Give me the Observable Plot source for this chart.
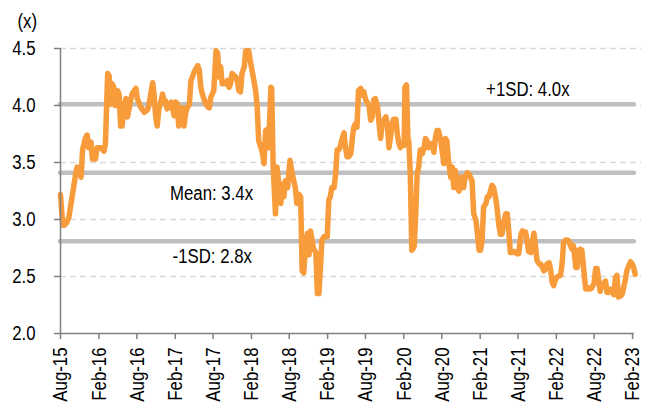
<!DOCTYPE html>
<html><head><meta charset="utf-8">
<script src="https://cdn.jsdelivr.net/npm/d3@7"></script>
<script src="https://cdn.jsdelivr.net/npm/@observablehq/plot@0.6"></script>
<style>body{margin:0;background:#fff;}</style>
</head><body><div id="chart"></div>
<script>
// decimal years (weekly-ish readings)
const years = [
2015.58,2015.61,2015.63,2015.66,2015.69,2015.74,2015.78,2015.80,2015.83,2015.85,2015.87,2015.91,2015.93,2015.95,2015.98,
2016.00,2016.04,2016.06,2016.11,2016.15,2016.17,2016.20,2016.22,2016.24,2016.26,2016.28,2016.30,2016.33,2016.35,2016.37,
2016.39,2016.41,2016.44,2016.46,2016.50,2016.52,2016.57,2016.59,2016.63,2016.68,2016.72,2016.74,2016.79,2016.81,2016.83,
2016.85,2016.87,2016.89,2016.92,2016.94,2016.96,2016.98,2017.03,2017.07,2017.09,2017.11,2017.13,2017.16,2017.18,2017.20,
2017.22,2017.24,2017.27,2017.29,2017.31,2017.33,2017.38,2017.40,2017.42,2017.44,2017.46,2017.48,2017.51,2017.53,2017.55,
2017.57,2017.59,2017.62,2017.64,2017.66,2017.68,2017.70,2017.75,2017.77,2017.79,2017.81,2017.83,2017.88,2017.90,2017.92,
2017.94,2017.96,2017.99,2018.01,2018.05,2018.07,2018.10,2018.14,2018.16,2018.18,2018.21,2018.23,2018.25,2018.27,2018.29,
2018.31,2018.34,2018.35,2018.37,2018.40,2018.42,2018.44,2018.47,2018.49,2018.51,2018.53,2018.56,2018.59,2018.62,2018.64,
2018.66,2018.68,2018.71,2018.73,2018.75,2018.77,2018.80,2018.82,2018.84,2018.86,2018.88,2018.90,2018.93,2018.95,2018.97,
2018.99,2019.01,2019.04,2019.08,2019.10,2019.12,2019.14,2019.17,2019.19,2019.21,2019.23,2019.25,2019.28,2019.30,2019.32,
2019.34,2019.36,2019.39,2019.41,2019.43,2019.45,2019.47,2019.49,2019.52,2019.54,2019.56,2019.58,2019.60,2019.63,2019.65,
2019.67,2019.69,2019.71,2019.74,2019.76,2019.78,2019.80,2019.82,2019.85,2019.87,2019.89,2019.91,2019.93,2019.95,2019.98,
2020.00,2020.02,2020.04,2020.06,2020.09,2020.10,2020.12,2020.14,2020.15,2020.17,2020.19,2020.22,2020.24,2020.26,2020.28,
2020.30,2020.33,2020.35,2020.37,2020.39,2020.41,2020.44,2020.46,2020.48,2020.50,2020.52,2020.54,2020.57,2020.59,2020.61,
2020.63,2020.65,2020.67,2020.70,2020.72,2020.74,2020.76,2020.78,2020.81,2020.83,2020.85,2020.87,2020.89,2020.92,2020.94,
2020.96,2020.98,2021.00,2021.03,2021.05,2021.07,2021.09,2021.11,2021.13,2021.16,2021.18,2021.20,2021.22,2021.24,2021.26,
2021.29,2021.31,2021.33,2021.35,2021.37,2021.40,2021.42,2021.44,2021.46,2021.48,2021.50,2021.53,2021.55,2021.57,2021.59,
2021.62,2021.64,2021.66,2021.68,2021.70,2021.72,2021.75,2021.77,2021.79,2021.81,2021.83,2021.86,2021.88,2021.90,2021.92,
2021.94,2021.96,2021.99,2022.01,2022.03,2022.05,2022.07,2022.10,2022.14,2022.16,2022.18,2022.21,2022.23,2022.25,2022.27,
2022.29,2022.31,2022.34,2022.36,2022.38,2022.40,2022.42,2022.45,2022.47,2022.49,2022.51,2022.53,2022.55,2022.58,2022.60,
2022.62,2022.64,2022.66,2022.68,2022.71,2022.73,2022.75,2022.77,2022.80,2022.82,2022.84,2022.86,2022.88,2022.90,2022.93,
2022.95,2022.97,2022.99,2023.01,2023.04,2023.06,2023.08,2023.10,2023.12
];
const values = [
3.22,2.95,2.95,2.97,3.02,3.23,3.40,3.46,3.44,3.37,3.61,3.72,3.74,3.63,3.68,
3.53,3.53,3.63,3.63,3.60,3.66,4.28,4.26,4.01,4.19,4.16,4.00,4.13,4.10,3.82,
3.82,3.98,4.06,3.90,4.04,4.10,4.15,4.06,3.99,3.94,3.96,4.00,4.20,4.09,3.90,
3.82,3.96,4.01,4.10,4.03,4.04,3.97,4.03,3.91,4.03,4.02,3.82,3.90,3.98,3.82,
3.93,3.98,4.01,4.22,4.25,4.29,4.35,4.31,4.16,4.10,4.06,4.02,3.99,3.98,4.07,
4.10,4.13,4.48,4.46,4.25,4.34,4.19,4.19,4.22,4.16,4.19,4.28,4.25,4.21,4.13,
4.12,4.28,4.34,4.48,4.48,4.39,4.28,4.13,3.99,3.69,3.63,3.58,3.49,3.78,3.79,
3.63,4.16,4.15,3.46,3.05,3.46,3.34,3.14,3.31,3.20,3.34,3.28,3.52,3.40,3.34,
3.28,3.14,3.22,3.20,2.55,2.53,2.82,2.88,2.69,2.90,2.82,2.74,2.71,2.35,2.35,
2.58,2.82,2.85,2.85,3.17,3.20,3.28,3.28,3.40,3.61,3.61,3.64,3.72,3.76,3.63,
3.55,3.55,3.58,3.72,3.81,3.84,3.81,4.13,4.15,4.09,4.12,4.06,4.03,3.99,3.87,
3.90,4.05,4.06,3.99,3.84,3.71,3.84,3.87,3.90,3.81,3.63,3.72,3.84,3.88,3.88,
3.75,3.67,3.63,3.67,3.65,4.16,4.18,3.69,3.69,3.40,2.73,2.76,3.02,3.40,3.46,
3.61,3.58,3.63,3.71,3.69,3.63,3.66,3.67,3.59,3.72,3.78,3.78,3.69,3.59,3.49,
3.71,3.69,3.52,3.37,3.46,3.28,3.43,3.28,3.25,3.37,3.28,3.28,3.38,3.41,3.40,
3.37,3.34,3.05,2.99,2.87,2.73,2.73,2.82,3.11,3.14,3.20,3.20,3.25,3.30,3.28,
3.18,3.08,2.95,2.87,2.87,2.99,3.05,3.05,2.90,2.71,2.71,2.72,2.71,2.70,2.70,
2.87,2.90,2.89,2.89,2.81,2.72,2.71,2.81,2.88,2.77,2.64,2.61,2.61,2.58,2.55,
2.56,2.61,2.62,2.56,2.45,2.42,2.47,2.50,2.51,2.61,2.80,2.82,2.82,2.81,2.77,
2.74,2.77,2.58,2.58,2.73,2.74,2.73,2.52,2.39,2.39,2.40,2.39,2.40,2.44,2.57,
2.57,2.47,2.37,2.43,2.44,2.46,2.36,2.36,2.39,2.36,2.34,2.49,2.51,2.32,2.33,
2.35,2.41,2.47,2.55,2.60,2.63,2.61,2.58,2.52
];
const yTicks = [2.0, 2.5, 3.0, 3.5, 4.0, 4.5];
const xTickLabels = ["Aug-15","Feb-16","Aug-16","Feb-17","Aug-17","Feb-18","Aug-18","Feb-19",
  "Aug-19","Feb-20","Aug-20","Feb-21","Aug-21","Feb-22","Aug-22","Feb-23"];
const bandNames = ["+1SD: 4.0x", "Mean: 3.4x", "-1SD: 2.8x"];
const bandValues = [4.01, 3.41, 2.81];
const unitLabel = "(x)";

const toDate = y => { const f = Math.floor(y); return new Date(Date.UTC(f, 0, 1) + (y - f) * 365.25 * 864e5); };
const data = years.map((y, i) => ({date: toDate(y), value: values[i]}));
const tickDates = xTickLabels.map(d3.utcParse("%b-%y"));
const xStart = tickDates[0];
const xEnd = new Date(Date.UTC(2023, 2, 16));
const ruleEnd = new Date(Date.UTC(2023, 1, 10));

const font = "'Liberation Sans', Arial, sans-serif";
const chart = Plot.plot({
  width: 651, height: 407,
  marginLeft: 60, marginRight: 10, marginTop: 48, marginBottom: 74,
  x: {type: "utc", domain: [xStart, xEnd]},
  y: {domain: [2, 4.5]},
  style: {fontFamily: font, fontSize: "21px", color: "black", background: "white"},
  marks: [
    Plot.ruleY(yTicks.filter(v => v > 2), {stroke: "#d9d9d9", strokeWidth: 1.3, strokeDasharray: "6,4"}),
    Plot.ruleY(bandValues, {x1: xStart, x2: ruleEnd, stroke: "#bfbfbf", strokeWidth: 4.5, strokeLinecap: "round"}),
    Plot.lineY(data, {x: "date", y: "value", stroke: "#f89b3a", strokeWidth: 5.5, strokeLinejoin: "round", strokeLinecap: "round"}),
    Plot.ruleX([xStart], {y1: 2, y2: 4.5, stroke: "#808080", strokeWidth: 1.5}),
    Plot.ruleY([2], {x1: xStart, x2: ruleEnd, stroke: "#808080", strokeWidth: 1.5}),
    Plot.axisY({ticks: yTicks, tickFormat: d3.format(".1f"), tickSize: 6, tickPadding: 19, stroke: "#808080", strokeWidth: 1.5, fill: "black", label: null}),
    Plot.axisX({ticks: tickDates, tickFormat: d3.utcFormat("%b-%y"), tickSize: 6, tickPadding: 8, tickRotate: -90, stroke: "#808080", strokeWidth: 1.5, fill: "black", label: null}),
    Plot.text([bandNames[0]], {text: d => d, x: toDate(2021.71), y: bandValues[0], dy: -8.5, lineAnchor: "bottom", textAnchor: "middle", fill: "black"}),
    Plot.text([bandNames[1]], {text: d => d, x: toDate(2017.56), y: bandValues[1], dy: 27, lineAnchor: "bottom", textAnchor: "middle", fill: "black"}),
    Plot.text([bandNames[2]], {text: d => d, x: toDate(2017.57), y: bandValues[2], dy: 22, lineAnchor: "bottom", textAnchor: "middle", fill: "black"}),
    Plot.text([unitLabel], {text: d => d, frameAnchor: "top-left", dx: -43, dy: -21, lineAnchor: "bottom", textAnchor: "start", fill: "black"})
  ]
});
// narrow (Arial Narrow-like) text
chart.querySelectorAll("text").forEach(t => {
  const tr = t.getAttribute("transform");
  if (tr) t.setAttribute("transform", tr + " scale(0.8,1)");
  else {
    const x = +t.getAttribute("x") || 0, y = +t.getAttribute("y") || 0;
    t.setAttribute("transform", `translate(${x},${y}) scale(0.8,1) translate(${-x},${-y})`);
  }
});
document.getElementById("chart").appendChild(chart);
</script>
</body></html>
